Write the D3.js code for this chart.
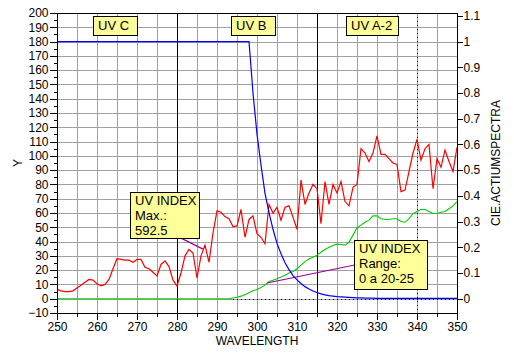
<!DOCTYPE html>
<html>
<head>
<meta charset="utf-8">
<script src="https://cdn.jsdelivr.net/npm/d3@7"></script>
<style>
  html, body { margin: 0; padding: 0; background: #fff; }
  svg { display: block; }
  text { font-family: "Liberation Sans", Arial, sans-serif; fill: #000; }
</style>
</head>
<body>
<svg id="chart" width="514" height="360"></svg>
<script>
// ---------------- DATA ----------------
const wavelengths = d3.range(250, 351, 1);

// Measured spectrum (left axis, Y)
const spectrum = [
  6.5, 5.5, 5, 5, 5.5, 7.5, 9.5, 11.5, 13.5, 13,          // 250-259
  10.5, 9, 10, 13.5, 21, 28, 27.5, 27, 27, 25.5,          // 260-269
  27.5, 27.5, 22, 21, 18.5, 16, 24, 26.5, 22.5, 13,       // 270-279
  9, 18, 30, 34.5, 32, 14.5, 30, 37.5, 25.5, 46,          // 280-289
  61.5, 60.5, 57.5, 56, 50.5, 51, 62.5, 43, 55.5, 58,     // 290-299
  45.5, 43, 38.5, 66, 60, 64, 55, 64, 65, 57,             // 300-309
  48.5, 83, 66, 74, 80, 77, 52.5, 82, 66, 80,             // 310-319
  74, 82, 68, 65, 78, 80, 105, 102, 96, 102,              // 320-329
  114, 101, 101, 98, 95, 94, 75, 76, 89, 102,             // 330-339
  111.5, 97, 105, 108, 77, 98, 92, 104, 96, 89,           // 340-349
  106                                                      // 350
];

// Weighted / cumulative curve (left axis, Y)
const weighted = [
  0,0,0,0,0,0,0,0,0,0,                                     // 250-259
  0,0,0,0,0,0,0,0,0,0,                                     // 260-269
  0,0,0,0,0,0,0,0,0,0,                                     // 270-279
  0,0,0,0,0,0,0,0,0,0,                                     // 280-289
  0,0,0,0, 0.5, 1, 1.8, 2.8, 4.2, 5.5,                     // 290-299
  6.5, 7.8, 9.5, 12, 13, 14, 15.2, 16.5, 18, 19,           // 300-309
  21, 23.5, 26, 27.8, 29, 30.5, 32.5, 34.5, 36, 37.3,      // 310-319
  38.2, 38, 37.5, 39.5, 44.5, 49.5, 51.5, 53.5, 55, 58,    // 320-329
  58, 56, 55.5, 55.5, 56, 56, 54, 53.5, 56, 59.5,          // 330-339
  61, 62.5, 62.5, 61, 59.7, 59.7, 60.5, 61, 63, 65,        // 340-349
  68                                                       // 350
];

// CIE action spectrum (right axis)
const cieAction = [
  1,1,1,1,1,1,1,1,1,1,                                     // 250-259
  1,1,1,1,1,1,1,1,1,1,                                     // 260-269
  1,1,1,1,1,1,1,1,1,1,                                     // 270-279
  1,1,1,1,1,1,1,1,1,1,                                     // 280-289
  1,1,1,1,1,1,1,1, 1, 0.80,                                // 290-299
  0.64, 0.52, 0.41, 0.335, 0.27, 0.215, 0.175, 0.14, 0.113, 0.09,  // 300-309
  0.073, 0.059, 0.047, 0.038, 0.03, 0.024, 0.019, 0.015, 0.012, 0.01, // 310-319
  0.008, 0.007, 0.006, 0.005, 0.004, 0.003, 0.003, 0.002, 0.002, 0.002, // 320-329
  0.001, 0.001, 0.001, 0.001, 0.001, 0.001, 0.001, 0.001, 0.001, 0.001, // 330-339
  0.001, 0.001, 0.001, 0.001, 0.001, 0.001, 0.001, 0.001, 0.001, 0.001, // 340-349
  0.001                                                    // 350
];

// Axis ticks
const xTicks = d3.range(250, 351, 10);
const xMinorTicks = d3.range(255, 351, 10);
const yTicks = d3.range(-10, 201, 10);
const yMinorTicks = d3.range(-5, 200, 10);
const rightTicks = d3.range(0, 12).map(i => i / 10);

// Band boundaries and annotations
const bandLines = [280, 315];
const dottedWave = 340;
const bandLabels = ["UV C", "UV B", "UV A-2"];
const maxBoxLines = ["UV INDEX", "Max.:", "592.5"];
const rangeBoxLines = ["UV INDEX", "Range:", "0 a 20-25"];
const pointer1 = [[277, 48], [286.5, 34.7]];
const pointer2 = [[302.5, 11], [332, 28]];
const zeroDotted = [294, 350];

// ---------------- LAYOUT ----------------
const svg = d3.select("#chart");
const L = 57, R = 457, T = 13, B = 313;

const x = d3.scaleLinear().domain([250, 350]).range([L, R]);
const y = d3.scaleLinear().domain([-10, 200]).range([B, T]);
// right axis: 1.0 coincides with Y=180
const yR = d3.scaleLinear().domain([0, 1]).range([y(0), y(180)]);

// grid
const grid = svg.append("g").attr("stroke", "#a0a0a0").attr("stroke-width", 1).attr("shape-rendering", "crispEdges");
d3.range(255, 350, 5).forEach(v => {
  grid.append("line").attr("x1", Math.round(x(v)) + 0.5).attr("x2", Math.round(x(v)) + 0.5).attr("y1", T).attr("y2", B);
});
d3.range(-10 + 10, 200, 10).forEach(v => {
  grid.append("line").attr("y1", Math.round(y(v)) + 0.5).attr("y2", Math.round(y(v)) + 0.5).attr("x1", L).attr("x2", R);
});

// band boundary lines
bandLines.forEach(v => {
  svg.append("line").attr("x1", Math.round(x(v)) + 0.5).attr("x2", Math.round(x(v)) + 0.5)
    .attr("y1", T).attr("y2", B).attr("stroke", "#000").attr("stroke-width", 1).attr("shape-rendering", "crispEdges");
});
svg.append("line").attr("x1", Math.round(x(dottedWave)) + 0.5).attr("x2", Math.round(x(dottedWave)) + 0.5)
  .attr("y1", T).attr("y2", B).attr("stroke", "#000").attr("stroke-width", 1).attr("stroke-dasharray", "1,3");

// dotted zero line
svg.append("line").attr("x1", x(zeroDotted[0])).attr("x2", x(zeroDotted[1]))
  .attr("y1", Math.round(y(0)) + 0.5).attr("y2", Math.round(y(0)) + 0.5)
  .attr("stroke", "#000").attr("stroke-dasharray", "1,3");

// series
const lineL = d3.line().x((d, i) => x(wavelengths[i])).y(d => y(d));
const lineR = d3.line().x((d, i) => x(wavelengths[i])).y(d => yR(d));

svg.append("path").datum(weighted).attr("d", lineL).attr("fill", "none").attr("stroke", "#00cc00").attr("stroke-width", 1.1);
svg.append("path").datum(spectrum).attr("d", lineL).attr("fill", "none").attr("stroke", "#ff0000").attr("stroke-width", 1.2);

const lineP = d3.line().x(d => x(d[0])).y(d => y(d[1]));
svg.append("path").datum(pointer1).attr("d", lineP).attr("fill", "none").attr("stroke", "#990099").attr("stroke-width", 1.2);
svg.append("path").datum(pointer2).attr("d", lineP).attr("fill", "none").attr("stroke", "#990099").attr("stroke-width", 1.2);

svg.append("path").datum(cieAction).attr("d", lineR).attr("fill", "none").attr("stroke", "#0000ff").attr("stroke-width", 1.2);

// label boxes
function box(x0, y0, w, h, lines, tx, baselines) {
  const g = svg.append("g");
  g.append("rect").attr("x", x0 + 0.5).attr("y", y0 + 0.5).attr("width", w).attr("height", h)
    .attr("fill", "#ffff99").attr("stroke", "#000").attr("stroke-width", 1);
  lines.forEach((t, i) => {
    g.append("text").attr("x", tx).attr("y", baselines[i]).attr("font-size", 13).text(t);
  });
}
box(93, 16, 44, 19, [bandLabels[0]], 98, [29.5]);
box(231, 16, 44, 19, [bandLabels[1]], 236, [29.5]);
box(346, 16, 52, 19, [bandLabels[2]], 351, [29.5]);
box(130, 192, 69, 46, maxBoxLines, 135, [205, 220, 234.5]);
box(354, 240, 73, 49, rangeBoxLines, 359, [253, 268, 282.5]);

// frame
svg.append("rect").attr("x", L + 0.5).attr("y", T + 0.5).attr("width", R - L - 1 + 1).attr("height", B - T)
  .attr("fill", "none").attr("stroke", "#000").attr("stroke-width", 1).attr("shape-rendering", "crispEdges");

// axes
const fs = 12;
const gx = svg.append("g").attr("transform", `translate(0,${B + 0.5})`)
  .call(d3.axisBottom(x).tickValues(xTicks).tickSize(6).tickPadding(3).tickFormat(d3.format("d")));
const gxm = svg.append("g").attr("transform", `translate(0,${B + 0.5})`)
  .call(d3.axisBottom(x).tickValues(xMinorTicks).tickSize(3).tickFormat(""));
const gy = svg.append("g").attr("transform", `translate(${L + 0.5},0)`)
  .call(d3.axisLeft(y).tickValues(yTicks).tickSize(8).tickPadding(1).tickFormat(d3.format("d")));
const gym = svg.append("g").attr("transform", `translate(${L + 0.5},0)`)
  .call(d3.axisLeft(y).tickValues(yMinorTicks).tickSize(4).tickFormat(""));
const gr = svg.append("g").attr("transform", `translate(${R + 0.5},0)`)
  .call(d3.axisRight(yR).tickValues(rightTicks).tickSize(5).tickPadding(1)
    .tickFormat(d => d === 0 ? "0" : (d === 1 ? "1" : d.toFixed(1))));
[gx, gxm, gy, gym, gr].forEach(g => {
  g.select(".domain").remove();
  g.selectAll("line").attr("stroke", "#000").attr("shape-rendering", "crispEdges");
  g.selectAll("text").attr("font-size", fs).attr("font-family", "Liberation Sans, Arial, sans-serif").attr("fill", "#000");
});

// axis titles
svg.append("text").attr("x", (L + R) / 2).attr("y", 345).attr("text-anchor", "middle").attr("font-size", 12).text("WAVELENGTH");
svg.append("text").attr("transform", `translate(22,${(T + B) / 2}) rotate(-90)`).attr("text-anchor", "middle").attr("font-size", 12).text("Y");
svg.append("text").attr("transform", `translate(500,${(T + B) / 2}) rotate(-90)`).attr("text-anchor", "middle").attr("font-size", 12).text("CIE.ACTIUMSPECTRA");
</script>
</body>
</html>
